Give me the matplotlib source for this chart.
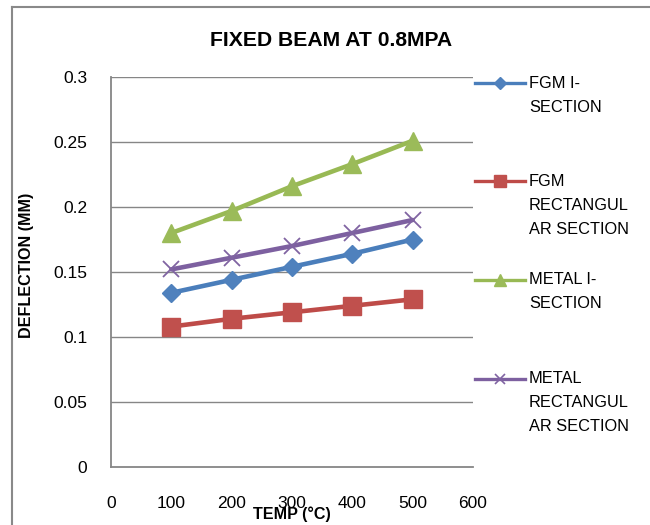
import matplotlib
matplotlib.use("Agg")
import matplotlib.pyplot as plt
from matplotlib.lines import Line2D

# ---- data ----
temps = [100, 200, 300, 400, 500]
fgm_i = [0.134, 0.144, 0.154, 0.164, 0.175]
fgm_rect = [0.108, 0.114, 0.119, 0.124, 0.129]
metal_i = [0.180, 0.197, 0.216, 0.233, 0.251]
metal_rect = [0.152, 0.161, 0.170, 0.180, 0.190]
series_labels = ["FGM I-\nSECTION", "FGM\nRECTANGUL\nAR SECTION",
                 "METAL I-\nSECTION", "METAL\nRECTANGUL\nAR SECTION"]
x_ticks = [0, 100, 200, 300, 400, 500, 600]
y_ticks = [0, 0.05, 0.1, 0.15, 0.2, 0.25, 0.3]
y_tick_labels = ["0", "0.05", "0.1", "0.15", "0.2", "0.25", "0.3"]
title = "FIXED BEAM AT 0.8MPA"
x_label = "TEMP (\u00b0C)"
y_label = "DEFLECTION (MM)"

W, H = 650, 525
def fx(x):
    return x / W
def fy(y):
    return 1 - y / H

regular = ['Liberation Sans', 'DejaVu Sans']

series = [fgm_i, fgm_rect, metal_i, metal_rect]
line_colors = ['#4A7EBB', '#BE4B48', '#98B954', '#7D60A0']
fill_colors = ['#4F81BD', '#C0504D', '#9BBB59', '#8064A2']
markers = ['D', 's', '^', 'x']
msizes = [9.5, 13, 13, 12]
leg_msizes = [6, 8, 8, 7.5]

fig = plt.figure(figsize=(6.5, 5.25), dpi=100)
ax = fig.add_axes([fx(111), fy(467), fx(473) - fx(111), fy(77) - fy(467)])

grid_col = '#868686'
for yv in y_ticks[1:]:
    ax.axhline(yv, color=grid_col, lw=1.0, zorder=1)

for vals, lc, fc, m, ms in zip(series, line_colors, fill_colors, markers, msizes):
    if m == 'x':
        ax.plot(temps, vals, color=lc, lw=3.3, marker=m, ms=ms, mew=1.3,
                mec=fc, zorder=3, solid_capstyle='round')
    else:
        ax.plot(temps, vals, color=lc, lw=3.3, marker=m, ms=ms, mfc=fc,
                mec=fc, zorder=3, solid_capstyle='round')

ax.set_xlim(0, 600)
ax.set_ylim(0, 0.3)
ax.set_xticks(x_ticks)
ax.set_xticklabels([str(t) for t in x_ticks], family=regular, fontsize=12.5)
ax.set_yticks(y_ticks)
ax.set_yticklabels(y_tick_labels, family=regular, fontsize=12.5)
ax.tick_params(axis='both', length=0, colors='#000000')
ax.tick_params(axis='y', pad=17)
ax.tick_params(axis='x', pad=21)
for s in ['top', 'right']:
    ax.spines[s].set_visible(False)
for s in ['left', 'bottom']:
    ax.spines[s].set_color(grid_col)
    ax.spines[s].set_linewidth(1.3)

# title and axis labels
fig.text(fx(331), fy(40), title, family=regular, fontweight='bold',
         fontsize=15.2, ha='center', va='center')
fig.text(fx(292), fy(514), x_label, family=regular, fontweight='bold',
         fontsize=11.6, ha='center', va='center')
fig.text(fx(26), fy(265), y_label, family=regular, fontweight='bold',
         fontsize=11.6, ha='center', va='center', rotation=90)

# legend (manual, Excel style)
for i, (lab, lc, fc, m, ms) in enumerate(zip(series_labels, line_colors,
                                             fill_colors, markers, leg_msizes)):
    yc = 83 + i * 98.5
    fig.add_artist(Line2D([fx(475), fx(525)], [fy(yc), fy(yc)], color=lc,
                          lw=2.4, transform=fig.transFigure))
    fig.add_artist(Line2D([fx(500)], [fy(yc)], marker=m, ms=ms, mfc=fc,
                          mec=fc, mew=1.2 if m == 'x' else 1.0,
                          color=lc, transform=fig.transFigure))
    for j, line in enumerate(lab.split("\n")):
        fig.text(fx(529), fy(yc + j * 24), line, family=regular, fontsize=11.8,
                 ha='left', va='center')

# outer frame
frame_col = '#898989'
fig.add_artist(Line2D([fx(12), fx(12)], [fy(7), 0], color=frame_col, lw=1.5,
                      transform=fig.transFigure))
fig.add_artist(Line2D([fx(12), 1], [fy(7), fy(7)], color=frame_col, lw=1.5,
                      transform=fig.transFigure))

fig.savefig("out.png", dpi=100, facecolor='white')
